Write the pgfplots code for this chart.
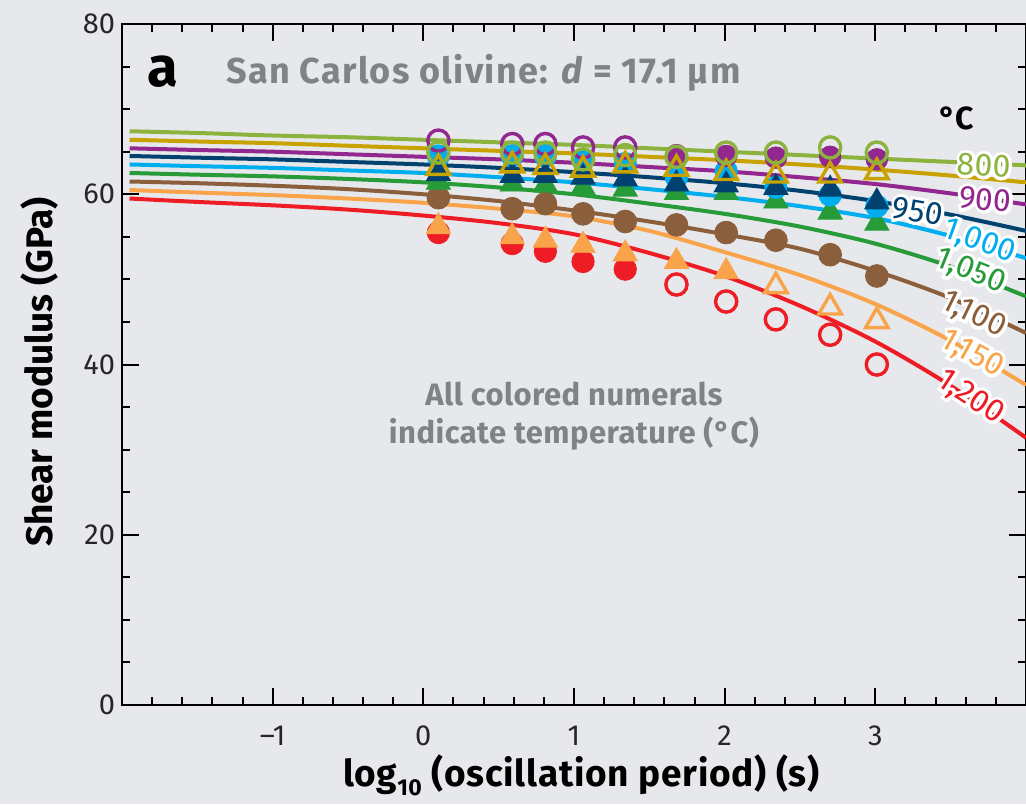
\documentclass[border=0pt]{standalone}
\usepackage{pgfplots}
\pgfplotsset{compat=1.18}
\usepackage{fontspec}
\setmainfont{Fira Sans}
\newfontfamily\halofont[FakeBold=20]{Fira Sans}
\definecolor{bgc}{HTML}{E6E8EB}
\definecolor{txtgrey}{HTML}{808285}
\definecolor{c800}{HTML}{8DB33F}
\definecolor{c850}{HTML}{C8A200}
\definecolor{c900}{HTML}{92278F}
\definecolor{c950}{HTML}{00416F}
\definecolor{c1000}{HTML}{00AEEF}
\definecolor{c1050}{HTML}{279B37}
\definecolor{c1100}{HTML}{8B5E3C}
\definecolor{c1150}{HTML}{F9A44A}
\definecolor{c1200}{HTML}{EE1C25}
\newcommand{\halolabel}[5]{%
  \node[text=white, rotate=#3, font=\halofont\fontsize{16}{18}\selectfont] at (axis cs:#1,#2) {#5};%
  \node[text=#4, rotate=#3, font=\fontsize{16}{18}\selectfont] at (axis cs:#1,#2) {#5};%
}
\begin{document}
\begin{tikzpicture}
\fill[bgc] (-61pt,-49.5pt) rectangle (453pt,352.5pt);
\begin{axis}[
  at={(0,0)}, anchor=south west,
  scale only axis, width=452pt, height=340.5pt,
  xmin=-2, xmax=4, ymin=0, ymax=80,
  xtick={-1,0,1,2,3}, xticklabels={–1,0,1,2,3},
  minor xtick={-1.8,-1.6,-1.4,-1.2,-0.8,-0.6,-0.4,-0.2,0.2,0.4,0.6,0.8,1.2,1.4,1.6,1.8,2.2,2.4,2.6,2.8,3.2,3.4,3.6,3.8},
  ytick={0,20,40,60,80}, yticklabels={0,20,40,60,80},
  minor ytick={5,10,15,25,30,35,45,50,55,65,70,75},
  axis line style={line width=1.2pt},
  major tick length=8.5pt, minor tick length=4pt,
  every tick/.style={black, line width=1pt},
  tick align=inside,
  tick label style={font=\fontsize{14.5}{16}\selectfont, text=black!85},
  xticklabel style={yshift=-7pt},
  xlabel={\bfseries\addfontfeature{LetterSpace=2}log\raisebox{-0.45ex}{\fontsize{11.5}{12}\selectfont 10} (oscillation period) (s)},
  xlabel style={font=\fontsize{18.5}{20}\selectfont, at={(axis description cs:0.508,0)}, anchor=center, yshift=-35pt},
  ylabel={\bfseries Shear modulus (GPa)},
  ylabel style={font=\fontsize{18.5}{20}\selectfont, at={(axis description cs:0,0.489)}, anchor=center, yshift=41pt},
  clip=true,
]
% model curves
\addplot[c1200, line width=2pt, smooth] coordinates {(-1.95,59.5)(-1.5,59.1)(-1,58.7)(-0.5,58.2)(0,57.5)(0.5,56.6)(1,55.3)(1.5,53.1)(2,50.4)(2.5,46.9)(3,42.7)(3.5,37.5)(4,31.4)};
\addplot[c1150, line width=2pt, smooth] coordinates {(-1.95,60.5)(-1.5,60.2)(-1,59.9)(-0.5,59.5)(0,59.0)(0.5,58.3)(1,57.4)(1.5,55.7)(2,53.2)(2.5,50.5)(3,47.1)(3.5,42.8)(4,37.6)};
\addplot[c1100, line width=2pt, smooth] coordinates {(-1.95,61.5)(-1.5,61.3)(-1,61.0)(-0.5,60.6)(0,60.0)(0.5,59.2)(1,58.1)(1.5,56.8)(2,55.3)(2.5,53.6)(3,51.0)(3.5,47.8)(4,43.7)};
\addplot[c1050, line width=2pt, smooth] coordinates {(-1.95,62.5)(-1.5,62.3)(-1,62.1)(-0.5,61.8)(0,61.4)(0.5,60.8)(1,60.0)(1.5,58.9)(2,57.7)(2.5,56.2)(3,54.2)(3.5,51.5)(4,48.0)};
\addplot[c1000, line width=2pt, smooth] coordinates {(-1.95,63.5)(-1.5,63.3)(-1,63.1)(-0.5,62.8)(0,62.5)(0.5,62.0)(1,61.4)(1.5,60.6)(2,59.7)(2.5,58.6)(3,57.2)(3.5,55.1)(4,52.5)};
\addplot[c950, line width=2pt, smooth] coordinates {(-1.95,64.5)(-1.5,64.3)(-1,64.1)(-0.5,63.8)(0,63.5)(0.5,63.1)(1,62.6)(1.5,62.0)(2,61.3)(2.5,60.4)(3,59.2)(3.5,57.6)(4,55.7)};
\addplot[c900, line width=2pt, smooth] coordinates {(-1.95,65.4)(-1.5,65.2)(-1,65.0)(-0.5,64.7)(0,64.4)(0.5,64.1)(1,63.7)(1.5,63.2)(2,62.7)(2.5,62.0)(3,61.2)(3.5,60.1)(4,58.8)};
\addplot[c850, line width=2pt, smooth] coordinates {(-1.95,66.4)(-1.5,66.2)(-1,66.0)(-0.5,65.7)(0,65.4)(0.5,65.1)(1,64.8)(1.5,64.4)(2,64.0)(2.5,63.5)(3,62.9)(3.5,62.2)(4,61.4)};
\addplot[c800, line width=2pt, smooth] coordinates {(-1.95,67.4)(-1.5,67.2)(-1,66.9)(-0.5,66.7)(0,66.4)(0.5,66.1)(1,65.8)(1.5,65.4)(2,65.0)(2.5,64.6)(3,64.2)(3.5,63.8)(4,63.4)};
% data: 1200 C
\addplot[only marks, mark=*, mark size=5.6pt, color=c1200] coordinates {(0.1,55.5)(0.59,54.2)(0.81,53.3)(1.06,52.1)(1.34,51.2)};
\addplot[only marks, mark=o, mark size=5.3pt, color=c1200, mark options={line width=1.7pt}] coordinates {(1.68,49.4)(2.01,47.4)(2.34,45.3)(2.7,43.5)(3.01,40.0)};
% 1150 C
\addplot[only marks, mark=triangle*, mark size=7pt, color=c1150] coordinates {(0.1,56.2)(0.59,55.0)(0.81,54.6)(1.06,54.0)(1.34,53.0)(1.68,52.1)(2.01,50.9)};
\addplot[only marks, mark=triangle, mark size=6.5pt, color=c1150, mark options={line width=1.7pt}] coordinates {(2.34,49.2)(2.7,46.7)(3.01,45.1)};
% 1100 C
\addplot[only marks, mark=*, mark size=5.7pt, color=c1100] coordinates {(0.1,59.6)(0.59,58.3)(0.81,58.9)(1.06,57.7)(1.34,56.8)(1.68,56.4)(2.01,55.5)(2.34,54.6)(2.7,52.9)(3.01,50.4)};
% 1050 C
\addplot[only marks, mark=triangle*, mark size=7pt, color=c1050] coordinates {(0.1,61.4)(0.59,61.2)(0.81,61.1)(1.06,60.8)(1.34,60.6)(1.68,60.2)(2.01,60.2)(2.34,59.2)(2.7,57.9)(3.01,56.6)};
% 1000 C
\addplot[only marks, mark=*, mark size=5.6pt, color=c1000] coordinates {(0.1,64.5)(0.59,64.5)(0.81,64.5)(1.06,64.0)(1.34,63.6)(1.68,62.0)(2.01,62.7)(2.34,60.8)(2.7,59.9)(3.01,58.6)};
% 950 C
\addplot[only marks, mark=triangle*, mark size=7pt, color=c950] coordinates {(0.1,62.4)(0.59,62.2)(0.81,62.2)(1.06,62.0)(1.34,61.8)(1.68,61.2)(2.01,61.1)(2.34,60.8)(2.7,60.6)(3.01,59.1)};
% 900 C
\addplot[only marks, mark=o, mark size=5.3pt, color=c900, mark options={line width=1.7pt}] coordinates {(0.1,66.3)(0.59,65.9)(0.81,65.9)(1.06,65.5)(1.34,65.5)};
\addplot[only marks, mark=*, mark size=5.4pt, color=c900] coordinates {(1.68,64.6)(2.01,64.5)(2.34,64.3)(2.7,64.4)(3.01,64.1)};
% 850 C
\addplot[only marks, mark=triangle, mark size=6.5pt, color=c850, mark options={line width=1.7pt}] coordinates {(0.1,63.1)(0.59,63.4)(0.81,63.2)(1.06,62.9)(1.34,63.4)(1.68,63.0)(2.01,62.5)(2.34,62.2)(2.7,62.2)(3.01,62.6)};
% 800 C
\addplot[only marks, mark=o, mark size=5.3pt, color=c800, mark options={line width=1.7pt}] coordinates {(0.1,64.9)(0.59,64.9)(0.81,64.9)(1.06,64.1)(1.34,64.6)(1.68,64.4)(2.01,64.9)(2.34,64.9)(2.7,65.5)(3.01,64.9)};
% labels
\halolabel{3.72}{63.4}{-3}{c800}{800}
\halolabel{3.73}{59.4}{-5}{c900}{900}
\halolabel{3.28}{58.0}{-10}{c950}{950}
\halolabel{3.69}{54.4}{-20}{c1000}{1,000}
\halolabel{3.63}{50.9}{-22}{c1050}{1,050}
\halolabel{3.65}{45.8}{-26}{c1100}{1,100}
\halolabel{3.64}{41.2}{-29}{c1150}{1,150}
\halolabel{3.63}{36.1}{-33}{c1200}{1,200}
\node[font=\fontsize{16}{18}\selectfont\bfseries] at (axis cs:3.54,68.9) {°C};
\node[font=\fontsize{28}{30}\selectfont\bfseries] at (axis cs:-1.73,74.4) {a};
\node[anchor=west, text=txtgrey, font=\fontsize{18}{20}\selectfont\bfseries\addfontfeature{LetterSpace=3.5}] at (axis cs:-1.353,74.3) {San Carlos olivine: \textit{d} = 17.1 µm};
\node[align=center, text=txtgrey, font=\fontsize{15.5}{19}\selectfont\bfseries\addfontfeature{LetterSpace=1.5}] at (axis cs:1.0,33.9) {All colored numerals\\indicate temperature (°C)};
\end{axis}
\pgfresetboundingbox
\path[use as bounding box] (-61pt,-49.5pt) rectangle (452pt,352.5pt);
\end{tikzpicture}
\end{document}
